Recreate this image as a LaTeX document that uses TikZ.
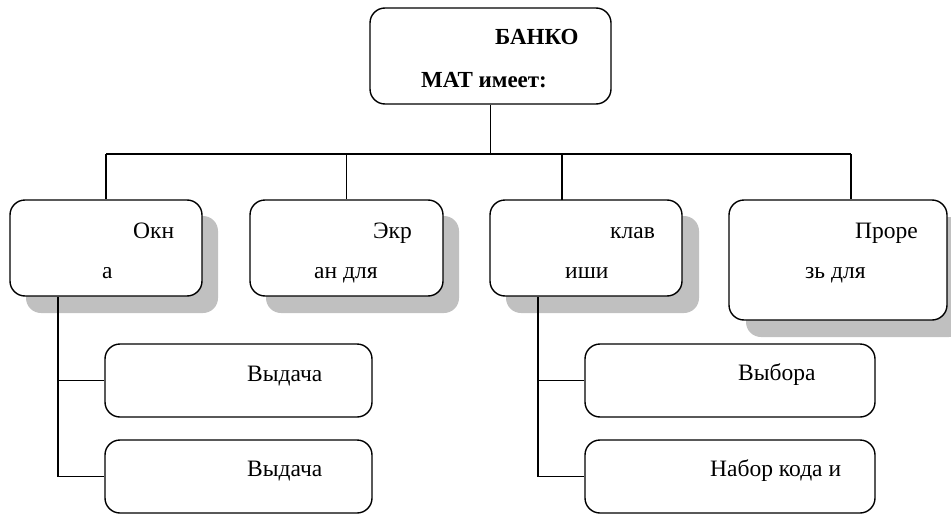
\documentclass[tikz,border=0pt]{standalone}
\usepackage{fontspec}
\setmainfont{Liberation Serif}
\begin{document}
\begin{tikzpicture}[x=1pt,y=1pt,
  box/.style={draw=black,line width=1.4pt,rounded corners=15pt,fill=white},
  shade/.style={fill=shadowgray,rounded corners=15pt},
  txt/.style={anchor=base west,inner sep=0pt,font=\fontsize{23.5}{27}\selectfont},
  btxt/.style={anchor=base west,inner sep=0pt,font=\fontsize{23}{27}\selectfont\bfseries},
  link/.style={draw=black,line width=1.4pt}]
\definecolor{shadowgray}{RGB}{192,192,192}
\useasboundingbox (0,0) rectangle (951,-514);
% shadows
\fill[shade] (26,-216) rectangle (218,-313);
\fill[shade] (266,-216) rectangle (459,-313);
\fill[shade] (506,-216) rectangle (699,-313);
\fill[shade] (746,-217) rectangle (964,-337);
% connectors
\coordinate (hL) at (106,-154);
\coordinate (hR) at (851,-154);
\coordinate (vL) at (58,-297);
\coordinate (vR) at (538,-297);
% top
\node[box,minimum width=241pt,minimum height=96pt] (top) at (490.5,-56) {};
% level 1 boxes
\node[box,minimum width=192pt,minimum height=96pt] (b1) at (106,-248) {};
\node[box,minimum width=193pt,minimum height=96pt] (b2) at (346.5,-248) {};
\node[box,minimum width=192pt,minimum height=96pt] (b3) at (586,-248) {};
\node[box,minimum width=218pt,minimum height=120pt] (b4) at (838,-260) {};
% lower boxes
\node[box,minimum width=267pt,minimum height=73pt] (l1) at (238.5,-380.5) {};
\node[box,minimum width=267pt,minimum height=73pt] (l2) at (238.5,-476.5) {};
\node[box,minimum width=290pt,minimum height=73pt] (r1) at (730,-380.5) {};
\node[box,minimum width=290pt,minimum height=73pt] (r2) at (730,-476.5) {};
% lines
\draw[link] (top.south) -- (490.5,-154);
\draw[link] (hL) -- (hR);
\draw[link] (hL) -- (b1.north);
\draw[link] (346.5,-154) -- (b2.north);
\draw[link] (562,-154) -- (562,-200);
\draw[link] (hR) -- (hR |- b4.north);
\draw[link] (vL) -- (58,-476.5) -- (l2.west);
\draw[link] (58,-380.5) -- (l1.west);
\draw[link] (vR) -- (538,-476.5) -- (r2.west);
\draw[link] (538,-380.5) -- (r1.west);
% texts
\node[btxt] (t1) at (495,-45) {БАНКО};
\node[btxt] (t2) at (421,-87) {МАТ имеет:};
\node[txt] (a1) at (133,-238) {Окн};
\node[txt] (a2) at (102,-278) {а};
\node[txt] (c1) at (373,-238) {Экр};
\node[txt] (c2) at (314,-278) {ан для};
\node[txt] (k1) at (610,-238) {клав};
\node[txt] (k2) at (565,-278) {иши};
\node[txt] (p1) at (855,-238) {Проре};
\node[txt] (p2) at (805,-278) {зь для};
\node[txt] (d1) at (247,-381) {Выдача};
\node[txt] (d2) at (247,-476) {Выдача};
\node[txt] (e1) at (738,-380) {Выбора};
\node[txt] (e2) at (710,-476) {Набор кода и};
\end{tikzpicture}
\end{document}
